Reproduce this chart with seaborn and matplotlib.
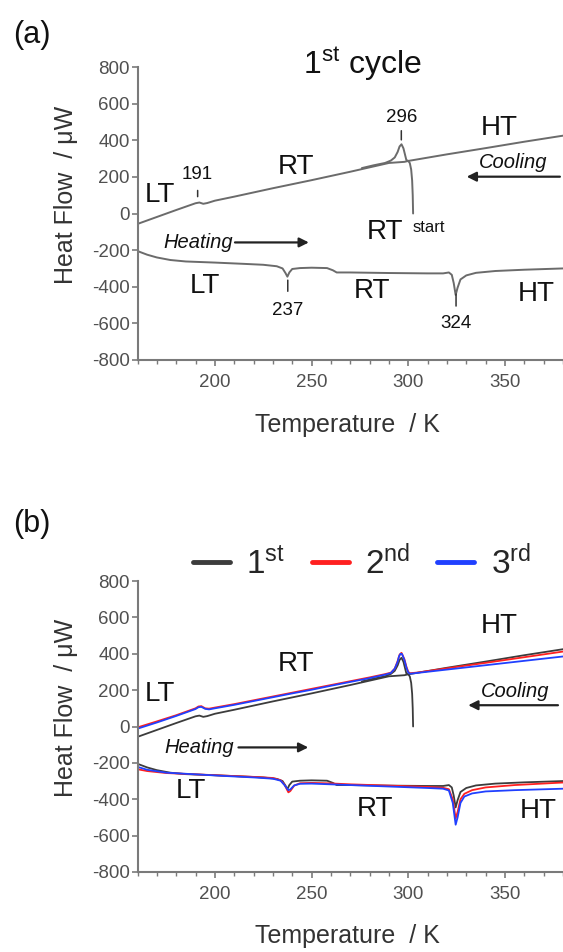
# DSC heat-flow curves: 1st cycle (a) and three cycles compared (b)

import numpy as np
import pandas as pd
import matplotlib
matplotlib.use('Agg')
import matplotlib.pyplot as plt
from matplotlib.ticker import MultipleLocator
import seaborn as sns

sns.set_style('ticks')
plt.rcParams['font.family'] = ['Liberation Sans', 'DejaVu Sans']
plt.rcParams['mathtext.fontset'] = 'custom'
plt.rcParams['mathtext.rm'] = 'Liberation Sans'
plt.rcParams['mathtext.it'] = 'Liberation Sans:italic'
plt.rcParams['axes.unicode_minus'] = False

# 1st cycle: cooling from HT (with the 296 K peak)
cool1_T = [380, 360, 340, 320, 305, 300, 299, 298.3, 297.5, 296.5, 295.5, 294.5, 293, 291, 288, 282, 276]
cool1_hf = [425, 392, 357, 323, 296, 287, 292, 322, 356, 378, 366, 336, 306, 289, 276, 263, 248]

# 1st cycle: start at RT (302 K) and cooling down to 160 K
start_T = [302.5, 302.3, 302, 301.5, 300.8, 300, 298, 290, 280, 270, 260, 250, 240, 230, 220,
           210, 200, 196, 194, 192, 190, 180, 170, 160]
start_hf = [0, 100, 180, 240, 275, 287, 282, 276, 252, 228, 205, 182, 160, 138, 115,
            92, 70, 57, 53, 60, 56, 19, -19, -57]

# 1st cycle: heating
heat1_T = [160, 165, 170, 177, 185, 200, 215, 225, 232, 235, 236.5, 237.5, 238.5, 240, 244, 250,
           258, 261, 263, 270, 290, 310, 318, 321, 322.5, 323.5, 324.5, 325.5, 327, 330, 335,
           345, 360, 380]
heat1_hf = [-205, -225, -240, -254, -262, -268, -275, -280, -288, -300, -325, -345, -322, -303, -298, -296,
            -298, -310, -322, -322, -325, -327, -327, -322, -335, -380, -445, -405, -360, -338, -324,
            -314, -307, -300]

# 2nd cycle
cool2_T = [380, 360, 340, 320, 305, 301, 300, 299, 298, 296.5, 295.5, 294.5, 293, 291, 288, 280,
           270, 260, 250, 240, 230, 220, 210, 200, 197, 195, 193, 191.5, 190, 180, 170, 160]
cool2_hf = [412, 381, 350, 320, 297, 293, 300, 330, 370, 405, 395, 360, 318, 296, 288, 270,
            249, 228, 207, 186, 165, 144, 123, 104, 98, 100, 112, 110, 100, 62, 28, -5]
heat2_T = [160, 165, 175, 190, 205, 220, 230, 234, 236, 238, 239, 241, 244, 250, 260, 270, 290,
           310, 318, 321, 323, 324.5, 325.5, 327, 329, 333, 340, 355, 380]
heat2_hf = [-235, -245, -256, -263, -270, -277, -283, -295, -320, -362, -355, -325, -312, -310, -313, -318, -325,
            -332, -337, -345, -400, -505, -470, -400, -370, -350, -335, -322, -308]

# 3rd cycle
cool3_T = [380, 360, 340, 320, 305, 301, 300, 299, 298, 296.8, 296, 295.2, 294.5, 293, 291, 288, 280,
           270, 260, 250, 240, 230, 220, 210, 200, 197, 195, 193, 191.5, 190, 180, 170, 160]
cool3_hf = [385, 361, 337, 313, 295, 290, 296, 325, 365, 398, 400, 385, 355, 318, 294, 285, 266,
            245, 224, 202, 182, 161, 140, 119, 100, 94, 97, 108, 106, 96, 58, 22, -12]
heat3_T = [160, 165, 175, 190, 205, 220, 230, 234, 236, 238, 239, 241, 244, 250, 260, 270, 290,
           310, 318, 321, 323, 324.5, 325.5, 327, 329, 333, 340, 355, 380]
heat3_hf = [-222, -238, -254, -263, -272, -280, -287, -298, -322, -350, -346, -324, -315, -314, -318, -322, -330,
            -338, -342, -352, -420, -540, -500, -420, -385, -368, -357, -350, -342]

GRAY = '#6b6b6b'
AX_GRAY = '#7a7a7a'
TXT = '#111111'


def trace(ax, T, hf, color, lw=1.4, label=None):
    df = pd.DataFrame({'T': T, 'hf': hf})
    sns.lineplot(data=df, x='T', y='hf', sort=False, estimator=None, color=color,
                 linewidth=lw, label=label, ax=ax, legend=label is not None)


def style_axes(ax):
    ax.set_xlim(160, 380)
    ax.set_ylim(-800, 800)
    ax.xaxis.set_major_locator(MultipleLocator(50))
    ax.xaxis.set_minor_locator(MultipleLocator(10))
    ax.yaxis.set_major_locator(MultipleLocator(200))
    sns.despine(ax=ax)
    for s in ['left', 'bottom']:
        ax.spines[s].set_color(AX_GRAY)
        ax.spines[s].set_linewidth(1.5)
    ax.tick_params(axis='both', which='major', length=4, width=1.2, color=AX_GRAY,
                   labelsize=13.5, labelcolor='#505050')
    ax.tick_params(axis='x', which='major', pad=6)
    ax.tick_params(axis='y', which='major', pad=1.5)
    ax.tick_params(axis='x', which='minor', length=3, width=1.0, color=AX_GRAY)
    ax.set_xlabel('')
    ax.set_ylabel('')


def arrow(ax, x0, x1, y):
    ax.annotate('', xy=(x1, y), xytext=(x0, y),
                arrowprops=dict(arrowstyle='-|>', color='#222222', lw=1.6, mutation_scale=14,
                                shrinkA=0, shrinkB=0))


def mark(ax, label, x, y_txt, y_pt, gap):
    ax.annotate(label, xy=(x, y_pt), xytext=(x, y_txt), ha='center', va='center',
                fontsize=13.5, color=TXT,
                arrowprops=dict(arrowstyle='-', color='#333333', lw=1.1, shrinkA=gap, shrinkB=0))


fig = plt.figure(figsize=(5.63, 9.52), dpi=100)
ax1 = fig.add_axes([137.5 / 563, 1 - 360 / 952, 425.5 / 563, 293 / 952])
ax2 = fig.add_axes([137.5 / 563, 1 - 872 / 952, 425.5 / 563, 291 / 952])

# ---- panel (a)
trace(ax1, heat1_T, heat1_hf, GRAY)
trace(ax1, start_T, start_hf, GRAY)
trace(ax1, cool1_T, cool1_hf, GRAY)
style_axes(ax1)

big = dict(fontsize=20, color=TXT, ha='center', va='center')
ax1.text(171.6, 101, 'LT', **big)
ax1.text(241.9, 254, 'RT', **big)
ax1.text(346.8, 467, 'HT', **big)
ax1.text(195.1, -396, 'LT', **big)
ax1.text(281.4, -423, 'RT', **big)
ax1.text(366, -440, 'HT', **big)
ax1.text(287.9, -101, 'RT', **big)
ax1.text(310.7, -79, 'start', fontsize=12, color=TXT, ha='center', va='center')
ax1.text(354, 278, 'Cooling', fontsize=14.5, style='italic', color=TXT, ha='center', va='center')
arrow(ax1, 378.4, 330.2, 201)
ax1.text(191.2, -158, 'Heating', fontsize=14.5, style='italic', color=TXT, ha='center', va='center')
arrow(ax1, 210.4, 248.6, -158)
mark(ax1, '191', 191.1, 213, 92, 3)
mark(ax1, '296', 296.4, 524, 402, 1)
mark(ax1, '237', 237.7, -527, -364, 5)
mark(ax1, '324', 324.7, -600, -440, 4)

# ---- panel (b)
trace(ax2, heat1_T, heat1_hf, '#3c3c3c', lw=1.3)
trace(ax2, start_T, start_hf, '#3c3c3c', lw=1.3)
trace(ax2, cool1_T, cool1_hf, '#3c3c3c', lw=1.3, label=r'1$^{\mathrm{st}}$')
trace(ax2, cool2_T, cool2_hf, '#ff2020', lw=1.3, label=r'2$^{\mathrm{nd}}$')
trace(ax2, heat2_T, heat2_hf, '#ff2020', lw=1.3)
trace(ax2, cool3_T, cool3_hf, '#2040ff', lw=1.3, label=r'3$^{\mathrm{rd}}$')
trace(ax2, heat3_T, heat3_hf, '#2040ff', lw=1.3)
style_axes(ax2)

ax2.text(171.8, 177, 'LT', **big)
ax2.text(241.9, 342, 'RT', **big)
ax2.text(347, 552, 'HT', **big)
ax2.text(187.6, -354, 'LT', **big)
ax2.text(283, -453, 'RT', **big)
ax2.text(367, -463, 'HT', **big)
ax2.text(355, 195, 'Cooling', fontsize=14.5, style='italic', color=TXT, ha='center', va='center')
arrow(ax2, 377.4, 331, 117)
ax2.text(192, -114, 'Heating', fontsize=14.5, style='italic', color=TXT, ha='center', va='center')
arrow(ax2, 212.2, 248.3, -115)

leg = ax2.legend(loc='center', bbox_to_anchor=(362 / 563, 1 - 563 / 952), bbox_transform=fig.transFigure,
                 ncol=3, frameon=False, fontsize=24, handlelength=1.1, handletextpad=0.5,
                 columnspacing=0.8)
for ln in leg.get_lines():
    ln.set_linewidth(3.5)

# ---- figure-level labels
fig.text(32 / 563, 1 - 35 / 952, '(a)', fontsize=22, color=TXT, ha='center', va='center')
fig.text(32 / 563, 1 - 524 / 952, '(b)', fontsize=22, color=TXT, ha='center', va='center')
fig.text(362 / 563, 1 - 64 / 952, r'1$^{\mathrm{st}}$ cycle', fontsize=23, color=TXT,
         ha='center', va='center')
for yc in [195, 708]:
    fig.text(66 / 563, 1 - yc / 952, 'Heat Flow  / μW', fontsize=18, color='#333333',
             rotation=90, ha='center', va='center')
for yc in [425, 936]:
    fig.text(347.5 / 563, 1 - yc / 952, 'Temperature  / K', fontsize=18, color='#333333',
             ha='center', va='center')

fig.savefig('out.png', dpi=100)
